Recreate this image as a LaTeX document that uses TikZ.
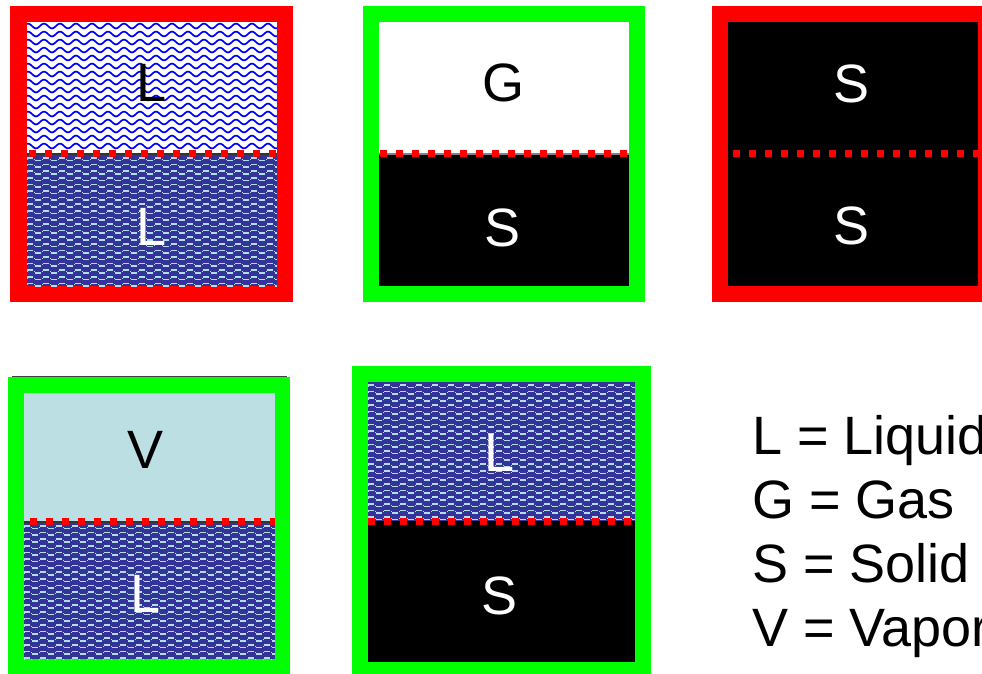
\documentclass[tikz,border=0pt]{standalone}
\usepackage{fontspec}
\setmainfont{Liberation Sans}
\definecolor{frameRed}{RGB}{255,0,0}
\definecolor{frameGreen}{RGB}{0,255,0}
\definecolor{navy}{RGB}{51,51,153}
\definecolor{ripple}{RGB}{176,224,230}
\definecolor{vapour}{RGB}{187,223,227}
\definecolor{waveBlue}{RGB}{0,0,255}

% rows of waves clipped to a rectangle:
% #1 x1, #2 y1, #3 x2, #4 y2, #5 first row, #6 row spacing, #7 amplitude, #8 style
\newcommand\wavefill[8]{%
  \begin{scope}
    \clip (#1,#2) rectangle (#3,#4);
    \pgfmathsetmacro\wnext{#5+#6}
    \foreach \yy in {#5,\wnext,...,#4}{%
      \draw[#8] plot[domain=#1:#3,samples=170] (\x,{\yy+#7*sin(22.5*\x)});
    }
  \end{scope}}

% broken ripples: alternating high and low dashes in each row
% #1 x1, #2 y1, #3 x2, #4 y2, #5 first row, #6 row spacing
\newcommand\ripplefill[6]{%
  \begin{scope}
    \clip (#1,#2) rectangle (#3,#4);
    \pgfmathsetmacro\rnext{#5+#6}
    \foreach \yy in {#5,\rnext,...,#4}{%
      \draw[rippleDash] (#1,\yy) -- (#3,\yy);
      \draw[rippleDash,dash phase=8pt] (#1,\yy+2.6) -- (#3,\yy+2.6);
      \draw[rippleStep] (#1,\yy+1.3) -- (#3,\yy+1.3);
    }
  \end{scope}}

\begin{document}
\begin{tikzpicture}[x=1pt,y=-1pt,
    label/.style={inner sep=0pt,font=\fontsize{54}{64}\selectfont},
    legend/.style={inner sep=0pt,anchor=base west,font=\fontsize{54}{64}\selectfont},
    gasWave/.style={waveBlue,line width=1.7pt},
    rippleDash/.style={ripple,line width=1.5pt,dash pattern=on 6pt off 10pt},
    rippleStep/.style={ripple,line width=1pt,dash pattern=on 1.2pt off 6.8pt,dash phase=1pt},
    interfaceBase/.style={black!80,line width=2pt},
    interface/.style={frameRed,line width=7pt,dash pattern=on 7pt off 9pt}]
  \useasboundingbox (0,0) rectangle (982,673);
  \clip (0,0) rectangle (982,673);
  \fill[white] (0,0) rectangle (982,673);

  % ---- box 1: liquid over liquid (red frame)
  \fill[frameRed] (10,6) rectangle (293,302);
  \fill[white] (27,22) rectangle (277,153);
  \wavefill{27}{22}{277}{153}{26}{8}{2.4}{gasWave}
  \fill[navy] (27,153) rectangle (277,286);
  \ripplefill{27}{153}{277}{286}{158}{6.6}
  \draw[interfaceBase] (27,154) -- (277,154);
  \draw[interface] (29,153) -- (277,153);
  \node[label,black] (l1top) at (152,83) {L};
  \node[label,white] (l1bot) at (152,227) {L};

  % ---- box 2: gas over solid (green frame)
  \fill[frameGreen] (363,6) rectangle (645,302);
  \fill[white] (379,22) rectangle (629,153);
  \fill[black] (379,153) rectangle (629,286);
  \draw[black!50,line width=2pt] (379,154) -- (629,154);
  \draw[interface] (380,153) -- (629,153);
  \node[label,black] (g2top) at (503,83) {G};
  \node[label,white] (s2bot) at (503,228) {S};

  % ---- box 3: solid over solid (red frame)
  \fill[frameRed] (712,6) rectangle (990,302);
  \fill[black] (728,22) rectangle (978,286);
  \draw[interface] (733,153) -- (978,153);
  \node[label,white] (s3top) at (851,84) {S};
  \node[label,white] (s3bot) at (851,226) {S};

  % ---- box 4: vapour over liquid (green frame)
  \draw[black!75,line width=1pt] (12,376) -- (287,376);
  \fill[frameGreen] (8,377) rectangle (290,680);
  \fill[vapour] (24,393) rectangle (275,521);
  \fill[navy] (24,521) rectangle (275,659);
  \ripplefill{24}{521}{275}{659}{526}{6.6}
  \draw[interfaceBase] (24,522) -- (275,522);
  \draw[interface] (30,521) -- (275,521);
  \node[label,black] (v4top) at (146,450) {V};
  \node[label,white] (l4bot) at (146,594) {L};

  % ---- box 5: liquid over solid (green frame)
  \fill[frameGreen] (352,366) rectangle (651,680);
  \fill[navy] (368,382) rectangle (635,521);
  \ripplefill{368}{382}{635}{521}{385}{6.6}
  \fill[black] (368,521) rectangle (635,662);
  \draw[interface] (368,521) -- (635,521);
  \node[label,white] (l5top) at (500,453) {L};
  \node[label,white] (s5bot) at (500,596) {S};

  % ---- legend
  \node[legend] (keyL) at (752,454) {L = Liquid};
  \node[legend] (keyG) at (752,518) {G = Gas};
  \node[legend] (keyS) at (752,582) {S = Solid};
  \node[legend] (keyV) at (752,646) {V = Vapor};
\end{tikzpicture}
\end{document}
